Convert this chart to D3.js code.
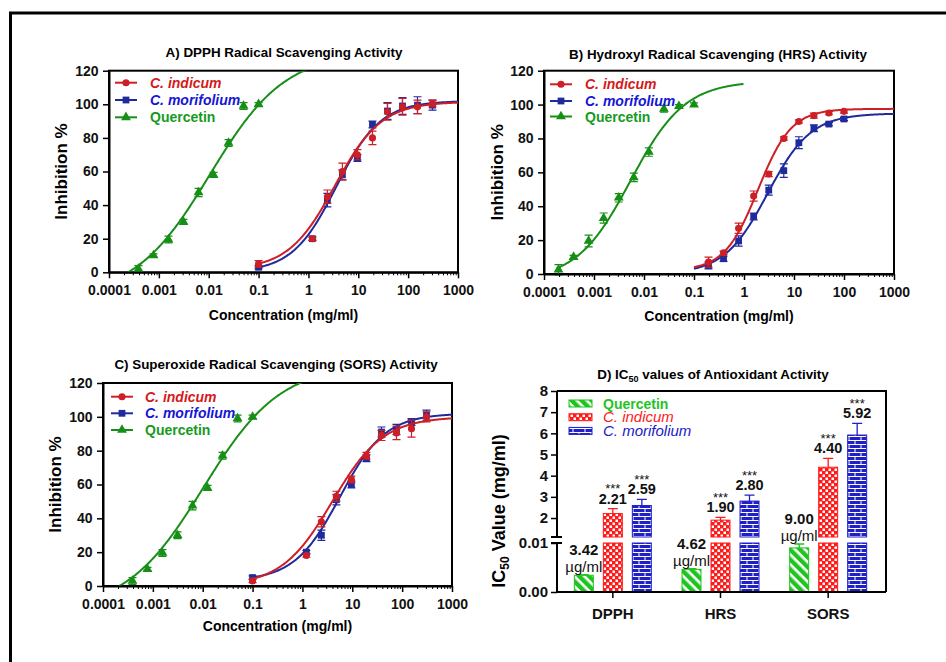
<!DOCTYPE html>
<html>
<head>
<meta charset="utf-8">
<script src="https://cdn.jsdelivr.net/npm/d3@7"></script>
<style>
body { margin: 0; background: #fff; }
svg text { font-family: "Liberation Sans", Arial, sans-serif; }
</style>
</head>
<body>
<svg id="fig" width="946" height="662"></svg>
<script>
// ---- data ----
var concQ9  = [0.00039, 0.00078, 0.00156, 0.003125, 0.00625, 0.0125, 0.025, 0.05, 0.1];
var concQ10 = [0.000195, 0.00039, 0.00078, 0.00156, 0.003125, 0.00625, 0.0125, 0.025, 0.05, 0.1];
var concExt = [0.1, 1.2, 2.4, 4.8, 9.6, 19.25, 38.5, 77, 154, 308];
var concExtB = [0.195, 0.39, 0.78, 1.56, 3.125, 6.25, 12.5, 25, 50, 100];

// A) DPPH
var quercetinA     = [2, 10, 19.5, 30, 47.5, 58, 77, 99, 100];
var quercetinA_err = [2, 1, 2, 1.5, 2.5, 1.5, 2, 2, 1];
var indicumA       = [5, 20, 45, 60, 70, 80, 95.5, 98.5, 98.5, 100.5];
var indicumA_err   = [2, 1, 4, 5, 3, 4, 5, 5, 4, 2];
var morifoliumA    = [3, 20, 43, 58, 68, 88, 96, 99, 99.5, 99.5];
var morifoliumA_err= [1, 1, 4, 3, 2, 2, 5, 5, 5, 3];
// B) HRS
var quercetinB     = [2.5, 10, 19.5, 33, 45, 57, 72, 97.5, 99, 100];
var quercetinB_err = [3, 1, 3.5, 3, 2.5, 2.5, 2.5, 2, 1, 1];
var indicumB       = [7, 12.5, 27, 46, 59, 80, 90, 93.5, 95, 96];
var indicumB_err   = [3, 1, 3, 3, 1.5, 1, 1, 1.5, 1, 1];
var morifoliumB    = [5, 9, 19.5, 34, 49.5, 61, 77.5, 86, 88.5, 91.5];
var morifoliumB_err= [2, 1.5, 3, 2, 3, 4, 3.5, 2, 1, 1];
// C) SORS
var quercetinC     = [3, 10, 19.5, 30, 47.5, 58, 77, 99, 100];
var quercetinC_err = [2, 1, 2, 2, 2.5, 1.5, 2, 2, 1];
var indicumC       = [3, 18, 38, 53, 63, 77, 89, 90.5, 93, 100];
var indicumC_err   = [1, 1, 3, 3, 2, 2, 3, 4, 5, 3];
var morifoliumC    = [5, 20, 30, 51, 60, 75.5, 91, 92.5, 97, 101];
var morifoliumC_err= [1, 1, 3, 3, 2, 2, 3, 3, 2, 3];

// fitted sigmoid parameters [bottom, top, logEC50, hill]
var fitQuercetinA = [-15, 131, -1.98, 0.575];
var fitIndicumA   = [1.5, 101.5, 0.53, 0.93];
var fitMorifoliumA= [0, 102, 0.56, 0.98];
var fitQuercetinB = [-4, 114, -2.27, 0.8];
var fitIndicumB   = [2, 97.5, 0.28, 1.3];
var fitMorifoliumB= [0, 94.8, 0.47, 1.0];
var fitQuercetinC = [-15, 131, -1.99, 0.56];
var fitIndicumC   = [0, 100, 0.6, 0.85];
var fitMorifoliumC= [3, 102, 0.75, 0.95];

var xTicks = [0.0001, 0.001, 0.01, 0.1, 1, 10, 100, 1000];
var yTicks = [0, 20, 40, 60, 80, 100, 120];

// D) IC50 (mg/ml)
var assays = ["DPPH", "HRS", "SORS"];
var ic50Quercetin     = [0.00342, 0.00462, 0.0090];
var ic50Quercetin_err = [0.0001, 0.00015, 0.0008];
var ic50Indicum       = [2.21, 1.90, 4.40];
var ic50Indicum_err   = [0.23, 0.13, 0.42];
var ic50Morifolium    = [2.59, 2.80, 5.92];
var ic50Morifolium_err= [0.29, 0.28, 0.55];
var ic50UpperTicks = [2, 3, 4, 5, 6, 7, 8];
var ic50LowerTicks = [0, 0.01];

var RED = "#cc1f26", BLUE = "#1f2a9c", GREEN = "#178f17";
var RED_T = "#d41a1a", BLUE_T = "#1515d6", GREEN_T = "#169a1e";

var svg = d3.select("#fig");

// outer frame
svg.append("path").attr("d", "M10.5,662V13H946")
  .attr("fill", "none").attr("stroke", "#000").attr("stroke-width", 3);

function fit4pl(f, lx) {
  return f[0] + (f[1] - f[0]) / (1 + Math.pow(10, (f[2] - lx) * f[3]));
}

var curvePanels = [
  { id: "A", x0: 109, x1: 458, yt: 70.7, yb: 272.3,
    title: "A) DPPH Radical Scavenging Activity", tx: 284, ty: 57, xly: 320, yLx: 67,
    leg: { l0: 115, l1: 137, rows: [82.7, 100, 117.3], tx: 150 },
    q: [concQ9, quercetinA, quercetinA_err, fitQuercetinA],
    ci: [concExt, indicumA, indicumA_err, fitIndicumA],
    cm: [concExt, morifoliumA, morifoliumA_err, fitMorifoliumA] },
  { id: "B", x0: 544, x1: 894, yt: 70.7, yb: 274,
    title: "B) Hydroxyl Radical Scavenging (HRS) Activity", tx: 718, ty: 59, xly: 321, yLx: 503,
    leg: { l0: 550, l1: 572, rows: [84.3, 101, 116.5], tx: 585 },
    q: [concQ10, quercetinB, quercetinB_err, fitQuercetinB],
    ci: [concExtB, indicumB, indicumB_err, fitIndicumB],
    cm: [concExtB, morifoliumB, morifoliumB_err, fitMorifoliumB] },
  { id: "C", x0: 103, x1: 452, yt: 383, yb: 586,
    title: "C) Superoxide Radical Scavenging (SORS) Activity", tx: 276, ty: 369, xly: 631, yLx: 61,
    leg: { l0: 111, l1: 133, rows: [396.7, 413.3, 430], tx: 145 },
    q: [concQ9, quercetinC, quercetinC_err, fitQuercetinC],
    ci: [concExt, indicumC, indicumC_err, fitIndicumC],
    cm: [concExt, morifoliumC, morifoliumC_err, fitMorifoliumC] }
];

curvePanels.forEach(function (p) {
  var g = svg.append("g");
  var x = d3.scaleLog().domain([1e-4, 1e3]).range([p.x0, p.x1]);
  var y = d3.scaleLinear().domain([0, 120]).range([p.yb, p.yt]);

  g.append("clipPath").attr("id", "clip" + p.id)
    .append("rect").attr("x", p.x0).attr("y", p.yt)
    .attr("width", p.x1 - p.x0).attr("height", p.yb - p.yt);

  // box
  g.append("rect").attr("x", p.x0).attr("y", p.yt)
    .attr("width", p.x1 - p.x0).attr("height", p.yb - p.yt)
    .attr("fill", "none").attr("stroke", "#000").attr("stroke-width", 2);

  var series = [
    { s: p.q, color: GREEN, sym: d3.symbolTriangle, size: 42, lo: -3.75, hi: 0 },
    { s: p.cm, color: BLUE, sym: d3.symbolSquare, size: 46, lo: -1, hi: 3 },
    { s: p.ci, color: RED, sym: d3.symbolCircle, size: 40, lo: -1, hi: 3 }
  ];

  var line = d3.line().x(function (d) { return x(Math.pow(10, d[0])); })
    .y(function (d) { return y(d[1]); }).curve(d3.curveBasis);

  series.forEach(function (se) {
    var conc = se.s[0], vals = se.s[1], errs = se.s[2], f = se.s[3];
    var pts = d3.range(se.lo, se.hi + 0.0001, 0.02).map(function (lx) { return [lx, fit4pl(f, lx)]; });
    g.append("path").attr("d", line(pts)).attr("fill", "none")
      .attr("stroke", se.color).attr("stroke-width", 2).attr("clip-path", "url(#clip" + p.id + ")");

    var eb = g.append("g").attr("stroke", se.color).attr("stroke-width", 1.2).attr("fill", "none");
    conc.forEach(function (c, i) {
      var cx = x(c), yh = y(vals[i] + errs[i]), yl = y(vals[i] - errs[i]);
      eb.append("path").attr("d", "M" + cx + "," + yl + "V" + yh +
        "M" + (cx - 4) + "," + yh + "H" + (cx + 4) + "M" + (cx - 4) + "," + yl + "H" + (cx + 4));
    });
    g.append("g").selectAll("path").data(conc).enter().append("path")
      .attr("transform", function (c, i) { return "translate(" + x(c) + "," + y(vals[i]) + ")"; })
      .attr("d", d3.symbol().type(se.sym).size(se.size)).attr("fill", se.color);
  });

  // axes
  var minor = [];
  xTicks.slice(0, -1).forEach(function (t) { for (var k = 2; k < 10; k++) minor.push(t * k); });
  var xa = g.append("g").attr("transform", "translate(0," + p.yb + ")")
    .call(d3.axisBottom(x).tickValues(xTicks).tickFormat(function (d) { return String(d); }).tickSize(6).tickSizeOuter(0));
  g.append("g").attr("transform", "translate(0," + p.yb + ")")
    .call(d3.axisBottom(x).tickValues(minor).tickFormat("").tickSize(3).tickSizeOuter(0))
    .call(function (s) { s.select(".domain").remove(); });
  var ya = g.append("g").attr("transform", "translate(" + p.x0 + ",0)")
    .call(d3.axisLeft(y).tickValues(yTicks).tickSize(6).tickSizeOuter(0));
  [xa, ya].forEach(function (a) {
    a.select(".domain").attr("stroke-width", 2);
    a.selectAll(".tick line").attr("stroke-width", 1.5);
    a.selectAll("text").attr("font-size", 14).attr("font-weight", "bold")
      .attr("font-family", "'Liberation Sans', Arial, sans-serif").attr("fill", "#111");
  });
  xa.selectAll("text").attr("dy", "1em");
  ya.selectAll("text").attr("dx", "-0.1em");

  g.append("text").attr("x", p.tx).attr("y", p.ty).attr("text-anchor", "middle")
    .attr("font-size", 13.4).attr("font-weight", "bold").text(p.title);
  g.append("text").attr("x", (p.x0 + p.x1) / 2).attr("y", p.xly).attr("text-anchor", "middle")
    .attr("font-size", 14).attr("font-weight", "bold").text("Concentration (mg/ml)");
  g.append("text").attr("transform", "translate(" + p.yLx + "," + (p.yt + p.yb) / 2 + ") rotate(-90)")
    .attr("text-anchor", "middle").attr("font-size", 17).attr("font-weight", "bold").text("Inhibition %");

  // legend
  var legItems = [
    { name: "C. indicum", c: RED, t: RED_T, sym: d3.symbolCircle, size: 40, it: true },
    { name: "C. morifolium", c: BLUE, t: BLUE_T, sym: d3.symbolSquare, size: 46, it: true },
    { name: "Quercetin", c: GREEN, t: GREEN_T, sym: d3.symbolTriangle, size: 42, it: false }
  ];
  legItems.forEach(function (it, i) {
    var ry = p.leg.rows[i];
    g.append("line").attr("x1", p.leg.l0).attr("x2", p.leg.l1).attr("y1", ry).attr("y2", ry)
      .attr("stroke", it.c).attr("stroke-width", 2);
    g.append("path").attr("transform", "translate(" + (p.leg.l0 + p.leg.l1) / 2 + "," + ry + ")")
      .attr("d", d3.symbol().type(it.sym).size(it.size)).attr("fill", it.c);
    g.append("text").attr("x", p.leg.tx).attr("y", ry + 5).attr("font-size", 14)
      .attr("font-weight", "bold").attr("font-style", it.it ? "italic" : "normal")
      .attr("fill", it.t).text(it.name);
  });
});

// ---- D) IC50 bar chart ----
var DG = "#1fc41f", DR = "#ff1a1a", DB = "#2020c8";
var defs = svg.append("defs");
var pq = defs.append("pattern").attr("id", "patQ").attr("patternUnits", "userSpaceOnUse")
  .attr("width", 7).attr("height", 7).attr("patternTransform", "rotate(45)");
pq.append("rect").attr("width", 7).attr("height", 7).attr("fill", DG);
pq.append("rect").attr("y", 0).attr("width", 7).attr("height", 2.6).attr("fill", "#fff");
var pi = defs.append("pattern").attr("id", "patI").attr("patternUnits", "userSpaceOnUse")
  .attr("width", 6).attr("height", 6);
pi.append("rect").attr("width", 6).attr("height", 6).attr("fill", DR);
pi.append("rect").attr("x", 0.5).attr("y", 0.5).attr("width", 2.5).attr("height", 2.5).attr("fill", "#fff");
pi.append("rect").attr("x", 3.5).attr("y", 3.5).attr("width", 2.5).attr("height", 2.5).attr("fill", "#fff");
var pm = defs.append("pattern").attr("id", "patM").attr("patternUnits", "userSpaceOnUse")
  .attr("width", 12).attr("height", 8);
pm.append("rect").attr("width", 12).attr("height", 8).attr("fill", DB);
pm.append("path").attr("d", "M0,0.5H12M0,4.5H12M3,0V4M9,4V8").attr("stroke", "#fff").attr("stroke-width", 1);

var dX0 = 557, dX1 = 886, dYT = 391, dYB = 592;
var gapTop = 537, gapBot = 543;
var xD = d3.scaleBand().domain(assays).range([559, 882]);
var seriesD = ["Quercetin", "C. indicum", "C. morifolium"];
var x1 = d3.scaleBand().domain(seriesD).range([-43.5, 43.5]).paddingInner(0.345).paddingOuter(0.1725);
var yU = d3.scaleLinear().domain([1, 8]).range([539.2, dYT]);
var yL = d3.scaleLinear().domain([0, 0.01]).range([dYB, gapBot]);

var gD = svg.append("g");
gD.append("path").attr("d", "M" + dX0 + "," + dYT + "H" + dX1 + "V" + dYB)
  .attr("fill", "none").attr("stroke", "#000").attr("stroke-width", 2);

var bw = x1.bandwidth();
function barX(a, s) { return xD(a) + xD.bandwidth() / 2 + x1(s); }

// quercetin bars (lower segment)
assays.forEach(function (a, i) {
  var bx = barX(a, "Quercetin"), v = ic50Quercetin[i], e = ic50Quercetin_err[i];
  gD.append("rect").attr("x", bx).attr("y", yL(v)).attr("width", bw).attr("height", dYB - yL(v))
    .attr("fill", "url(#patQ)").attr("stroke", DG).attr("stroke-width", 1);
  var cx = bx + bw / 2, et = yL(v + e);
  gD.append("path").attr("d", "M" + cx + "," + yL(v) + "V" + et + "M" + (cx - 5) + "," + et + "H" + (cx + 5))
    .attr("stroke", DG).attr("stroke-width", 1.3).attr("fill", "none");
  gD.append("text").attr("x", cx).attr("y", et - 3).attr("text-anchor", "middle")
    .attr("font-size", 15).attr("fill", "#111").text("\u00b5g/ml");
  gD.append("text").attr("x", cx).attr("y", et - 20).attr("text-anchor", "middle")
    .attr("font-size", 15).attr("font-weight", "bold").attr("fill", "#111")
    .text(d3.format(".2f")(v * 1000));
});

// extract bars (broken: full lower segment + upper segment)
[["C. indicum", ic50Indicum, ic50Indicum_err, "url(#patI)", DR],
 ["C. morifolium", ic50Morifolium, ic50Morifolium_err, "url(#patM)", DB]].forEach(function (s) {
  assays.forEach(function (a, i) {
    var bx = barX(a, s[0]), v = s[1][i], e = s[2][i];
    gD.append("rect").attr("x", bx).attr("y", gapBot).attr("width", bw).attr("height", dYB - gapBot)
      .attr("fill", s[3]).attr("stroke", s[4]).attr("stroke-width", 1);
    gD.append("rect").attr("x", bx).attr("y", yU(v)).attr("width", bw).attr("height", gapTop - yU(v))
      .attr("fill", s[3]).attr("stroke", s[4]).attr("stroke-width", 1);
    var cx = bx + bw / 2, et = yU(v + e);
    gD.append("path").attr("d", "M" + cx + "," + yU(v) + "V" + et + "M" + (cx - 5) + "," + et + "H" + (cx + 5))
      .attr("stroke", s[4]).attr("stroke-width", 1.3).attr("fill", "none");
    gD.append("text").attr("x", cx).attr("y", et - 5).attr("text-anchor", "middle")
      .attr("font-size", 14.5).attr("font-weight", "bold").attr("fill", "#111").text(d3.format(".2f")(v));
    gD.append("text").attr("x", cx).attr("y", et - 15.5).attr("text-anchor", "middle")
      .attr("font-size", 13).attr("fill", "#111").text("***");
  });
});

// axes D
var xaD = gD.append("g").attr("transform", "translate(0," + dYB + ")")
  .call(d3.axisBottom(xD).tickSize(6).tickSizeOuter(0));
xaD.select(".domain").attr("d", "M" + dX0 + ",0H" + dX1);
var yaU = gD.append("g").attr("transform", "translate(" + dX0 + ",0)")
  .call(d3.axisLeft(yU).tickValues(ic50UpperTicks).tickFormat(d3.format("d")).tickSize(6).tickSizeOuter(0));
yaU.select(".domain").attr("d", "M0," + dYT + "V" + gapTop);
var yaL = gD.append("g").attr("transform", "translate(" + dX0 + ",0)")
  .call(d3.axisLeft(yL).tickValues(ic50LowerTicks).tickFormat(d3.format(".2f")).tickSize(6).tickSizeOuter(0));
yaL.select(".domain").attr("d", "M0," + gapBot + "V" + dYB);
[xaD, yaU, yaL].forEach(function (a) {
  a.select(".domain").attr("stroke-width", 2);
  a.selectAll(".tick line").attr("stroke-width", 1.5);
  a.selectAll("text").attr("font-size", 15).attr("font-weight", "bold")
    .attr("font-family", "'Liberation Sans', Arial, sans-serif").attr("fill", "#111");
});
xaD.selectAll("text").attr("dy", "1.2em");
// break marks
gD.append("path").attr("d", "M" + (dX0 - 6) + "," + gapTop + "H" + (dX0 + 5) + "M" + (dX0 - 6) + "," + gapBot + "H" + (dX0 + 5))
  .attr("stroke", "#000").attr("stroke-width", 2);

// titles D
var tD = gD.append("text").attr("x", 713).attr("y", 379).attr("text-anchor", "middle")
  .attr("font-size", 13.4).attr("font-weight", "bold");
tD.append("tspan").text("D) IC");
tD.append("tspan").attr("font-size", 9).attr("dy", 3).text("50");
tD.append("tspan").attr("dy", -3).text(" values of Antioxidant Activity");
var yD = gD.append("text").attr("transform", "translate(505," + 511 + ") rotate(-90)")
  .attr("text-anchor", "middle").attr("font-size", 18).attr("font-weight", "bold");
yD.append("tspan").text("IC");
yD.append("tspan").attr("font-size", 12).attr("dy", 4).text("50");
yD.append("tspan").attr("dy", -4).text(" Value (mg/ml)");

// legend D
[["Quercetin", "url(#patQ)", DG, "normal"], ["C. indicum", "url(#patI)", DR, "italic"],
 ["C. morifolium", "url(#patM)", DB, "italic"]].forEach(function (l, i) {
  var ry = 403.5 + i * 13.7;
  gD.append("rect").attr("x", 569).attr("y", ry - 3.5).attr("width", 23).attr("height", 7)
    .attr("fill", l[1]).attr("stroke", l[2]).attr("stroke-width", 1);
  gD.append("text").attr("x", 603).attr("y", ry + 5).attr("font-size", l[3] === "normal" ? 14 : 15)
    .attr("font-weight", l[3] === "normal" ? "bold" : "normal").attr("font-style", l[3])
    .attr("fill", l[2]).text(l[0]);
});
</script>
</body>
</html>
